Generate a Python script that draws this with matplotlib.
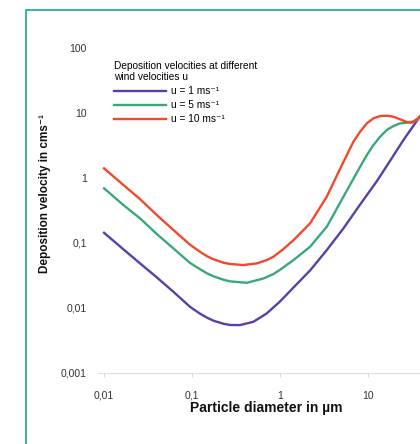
import matplotlib.pyplot as plt
from matplotlib.patches import Rectangle

plt.rcParams['font.family'] = ['Liberation Sans', 'DejaVu Sans']

# particle diameter (µm) and deposition velocity (cm/s) for three wind speeds
d_u1 = [0.01, 0.0166, 0.0256, 0.0397, 0.0613, 0.0949, 0.122, 0.147, 0.175, 0.227, 0.270, 0.351,
        0.497, 0.706, 1.0, 1.42, 2.19, 3.39, 5.24, 8.11, 12.6, 17.8, 25.2, 39.0]
v_u1 = [0.143, 0.0794, 0.0483, 0.0294, 0.0176, 0.0103, 0.00815, 0.00705, 0.00630, 0.00565, 0.00541,
        0.00539, 0.00606, 0.00817, 0.0125, 0.0205, 0.0375, 0.0774, 0.167, 0.390, 0.90, 1.85, 3.86, 9.0]

d_u5 = [0.01, 0.0166, 0.0256, 0.0397, 0.0613, 0.0949, 0.122, 0.147, 0.175, 0.227, 0.270, 0.418,
        0.646, 0.839, 1.0, 1.42, 2.19, 3.39, 5.24, 8.11, 9.67, 11.5, 13.7, 16.3, 19.4, 23.1, 27.5,
        32.7, 39.0]
v_u5 = [0.694, 0.383, 0.239, 0.137, 0.0822, 0.0490, 0.0395, 0.0340, 0.0305, 0.0270, 0.0255, 0.0242,
        0.0282, 0.0330, 0.0385, 0.0543, 0.0871, 0.177, 0.515, 1.49, 2.26, 3.23, 4.34, 5.51, 6.35, 6.98,
        7.13, 7.50, 8.83]

d_u10 = [0.01, 0.0166, 0.0256, 0.0397, 0.0613, 0.0949, 0.122, 0.147, 0.175, 0.227, 0.270, 0.383,
         0.543, 0.70, 0.839, 1.10, 1.42, 2.19, 3.39, 5.24, 6.81, 8.11, 9.67, 11.5, 13.7, 16.3, 19.4,
         23.1, 27.5, 31.4, 35.8, 39.0]
v_u10 = [1.41, 0.78, 0.474, 0.269, 0.158, 0.0935, 0.0735, 0.0625, 0.0558, 0.0495, 0.0472, 0.0455,
         0.0482, 0.054, 0.0610, 0.081, 0.110, 0.200, 0.515, 1.77, 3.63, 5.18, 6.98, 8.34, 9.05, 9.15,
         8.83, 8.05, 7.32, 7.13, 7.85, 9.05]

xticks = [0.01, 0.1, 1, 10]
xtick_labels = ['0,01', '0,1', '1', '10']
yticks = [0.001, 0.01, 0.1, 1, 10, 100]
ytick_labels = ['0,001', '0,01', '0,1', '1', '10', '100']

fig = plt.figure(figsize=(4.2, 4.44), dpi=100)
ax = fig.add_axes([0.233, 0.161, 0.853, 0.73])

ax.plot(d_u1, v_u1, color='#5a3fa6', lw=1.7, label='u = 1 ms⁻¹')
ax.plot(d_u5, v_u5, color='#3aa97a', lw=1.7, label='u = 5 ms⁻¹')
ax.plot(d_u10, v_u10, color='#f04a2c', lw=1.7, label='u = 10 ms⁻¹')

ax.set_xscale('log')
ax.set_yscale('log')
ax.set_xlim(0.0085, 100)
ax.set_ylim(0.001, 100)
ax.set_xticks(xticks, xtick_labels)
ax.set_yticks(yticks, ytick_labels)
ax.minorticks_off()

for s in ['top', 'right', 'left']:
    ax.spines[s].set_visible(False)
ax.spines['bottom'].set_color('#dddddd')
ax.tick_params(axis='x', length=3, color='#dddddd', labelsize=7.5, labelcolor='#333333', pad=10)
ax.tick_params(axis='y', length=0, labelsize=7.5, labelcolor='#333333', pad=8)

fig.text(0.633, 0.081, 'Particle diameter in µm', ha='center', va='center',
         fontsize=10, fontweight='bold', color='#111111')
fig.text(0.108, 0.565, 'Deposition velocity in cms⁻¹', ha='center', va='center',
         rotation=90, fontsize=8.5, fontweight='bold', color='#111111')

leg = ax.legend(loc='upper left', bbox_to_anchor=(0.034, 0.975), frameon=False,
                title='Deposition velocities at different\nwind velocities u',
                alignment='left', fontsize=7.3, title_fontsize=7.3,
                handlelength=5.1, handletextpad=0.5, labelspacing=0.4, borderaxespad=0)

# teal frame around the figure
fig.patches.append(Rectangle((0.062, -0.1), 1.2, 1.0775, transform=fig.transFigure,
                             fill=False, edgecolor='#3fae9d', lw=1.4))

fig.savefig('out.png', dpi=100)
